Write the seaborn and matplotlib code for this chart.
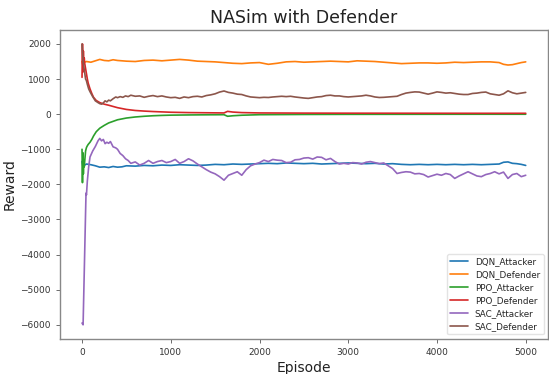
import numpy as np
import pandas as pd
import matplotlib
matplotlib.use("Agg")
import matplotlib.pyplot as plt
import seaborn as sns

# ---------------- data ----------------
dqn_ep = [0, 10, 20, 30, 50, 100, 150, 200, 250, 300, 350, 400, 450, 500, 600, 700, 800, 900,
          1000, 1100, 1200, 1300, 1400, 1500, 1600, 1700, 1800, 1900, 2000, 2100, 2200, 2300,
          2400, 2500, 2600, 2700, 2800, 2900, 3000, 3100, 3200, 3300, 3400, 3500, 3600, 3700,
          3800, 3900, 4000, 4100, 4200, 4300, 4400, 4500, 4600, 4700, 4750, 4800, 4850, 4900,
          4950, 5000]
dqn_attacker = [-1350, -1500, -1400, -1450, -1420, -1440, -1470, -1510, -1500, -1520, -1490,
                -1510, -1500, -1470, -1480, -1460, -1470, -1450, -1460, -1440, -1450, -1460,
                -1450, -1430, -1440, -1420, -1430, -1420, -1410, -1400, -1410, -1390, -1400,
                -1410, -1400, -1420, -1410, -1400, -1390, -1400, -1410, -1400, -1420, -1410,
                -1430, -1440, -1430, -1440, -1430, -1440, -1430, -1440, -1430, -1440, -1430,
                -1420, -1370, -1360, -1400, -1410, -1430, -1460]
dqn_defender = [1500, 1400, 1550, 1480, 1500, 1480, 1520, 1560, 1530, 1520, 1550, 1530, 1520,
                1510, 1500, 1530, 1540, 1520, 1540, 1560, 1540, 1510, 1500, 1490, 1470, 1450,
                1440, 1460, 1470, 1420, 1450, 1490, 1500, 1480, 1490, 1500, 1510, 1500, 1490,
                1520, 1510, 1500, 1480, 1460, 1440, 1450, 1460, 1460, 1450, 1460, 1480, 1470,
                1480, 1490, 1490, 1470, 1420, 1400, 1410, 1440, 1470, 1490]

ppo_ep = [0, 5, 10, 15, 20, 25, 30, 40, 50, 60, 70, 90, 110, 130, 160, 200, 250, 300, 400,
          500, 600, 700, 800, 900, 1000, 1200, 1400, 1600, 1640, 1700, 1800, 2000, 2500, 3000,
          3500, 4000, 4500, 5000]
ppo_attacker = [-1000, -1950, -1100, -1700, -1300, -1500, -1350, -1050, -950, -900, -860, -800,
                -720, -620, -500, -400, -320, -250, -160, -110, -80, -60, -45, -35, -28, -22,
                -18, -15, -60, -45, -30, -15, -8, -5, -4, -3, -2, -2]
ppo_defender = [1050, 2000, 1200, 1800, 1450, 1600, 1450, 1300, 1150, 1000, 880, 720, 590, 480,
                390, 330, 285, 255, 185, 135, 105, 88, 75, 65, 55, 45, 40, 35, 80, 60, 45, 35,
                30, 28, 27, 26, 25, 25]

sac_ep = [0, 12, 40, 45, 50, 60, 75, 90, 120, 150, 180, 200, 220, 240, 260, 280, 300, 320, 350,
          380, 400, 430, 460, 490, 520, 550, 600, 650, 700, 750, 800, 850, 900, 950, 1000, 1050,
          1100, 1150, 1200, 1250, 1300, 1350, 1400, 1450, 1500, 1550, 1600, 1650, 1700, 1750,
          1800, 1850, 1900, 1950, 2000, 2050, 2100, 2150, 2200, 2250, 2300, 2350, 2400, 2450,
          2500, 2550, 2600, 2650, 2700, 2750, 2800, 2850, 2900, 2950, 3000, 3050, 3100, 3150,
          3200, 3250, 3300, 3350, 3400, 3450, 3500, 3550, 3600, 3650, 3700, 3750, 3800, 3850,
          3900, 3950, 4000, 4050, 4100, 4150, 4200, 4250, 4300, 4350, 4400, 4450, 4500, 4550,
          4600, 4650, 4700, 4750, 4800, 4850, 4900, 4950, 5000]
sac_attacker = [-5950, -6000, -2800, -2250, -2300, -1900, -1500, -1220, -1050, -920, -760, -690,
                -760, -720, -840, -800, -830, -780, -930, -960, -1000, -1120, -1180, -1270,
                -1320, -1400, -1360, -1450, -1400, -1320, -1400, -1350, -1320, -1380, -1350,
                -1290, -1400, -1350, -1270, -1330, -1420, -1500, -1580, -1650, -1700, -1780,
                -1880, -1740, -1690, -1640, -1740, -1580, -1470, -1420, -1380, -1310, -1350,
                -1290, -1310, -1320, -1380, -1370, -1300, -1290, -1250, -1240, -1280, -1220,
                -1230, -1300, -1260, -1350, -1420, -1400, -1420, -1380, -1390, -1420, -1370,
                -1350, -1380, -1410, -1390, -1470, -1550, -1690, -1660, -1640, -1650, -1700,
                -1690, -1720, -1790, -1750, -1710, -1740, -1690, -1720, -1830, -1760, -1700,
                -1640, -1700, -1760, -1780, -1720, -1690, -1640, -1700, -1650, -1830, -1720,
                -1690, -1780, -1740]
sac_defender = [2000, 1500, 1000, 980, 950, 850, 720, 640, 500, 380, 330, 300, 285, 320, 380,
                350, 400, 380, 440, 490, 470, 500, 480, 520, 500, 540, 510, 520, 480, 510, 530,
                500, 520, 490, 470, 480, 450, 490, 470, 500, 510, 490, 530, 550, 580, 630, 660,
                620, 600, 570, 560, 520, 490, 480, 470, 480, 475, 490, 500, 510, 500, 510, 490,
                475, 460, 450, 470, 490, 500, 530, 540, 520, 520, 500, 490, 500, 510, 520, 540,
                520, 490, 475, 480, 490, 500, 510, 560, 600, 620, 635, 630, 600, 570, 600, 635,
                620, 600, 610, 590, 570, 560, 560, 590, 600, 620, 630, 580, 560, 540, 580, 665,
                610, 580, 600, 620]

series_names = ["DQN_Attacker", "DQN_Defender", "PPO_Attacker", "PPO_Defender",
                "SAC_Attacker", "SAC_Defender"]
series_x = [dqn_ep, dqn_ep, ppo_ep, ppo_ep, sac_ep, sac_ep]
series_y = [dqn_attacker, dqn_defender, ppo_attacker, ppo_defender, sac_attacker, sac_defender]

frames = [pd.DataFrame({"Episode": x, "Reward": y, "Series": n})
          for n, x, y in zip(series_names, series_x, series_y)]
df = pd.concat(frames, ignore_index=True)

# ---------------- plot ----------------
sns.set_style("ticks")
plt.rcParams["font.family"] = ["DejaVu Sans"]

fig = plt.figure(figsize=(5.49, 3.74), dpi=100)
ax = fig.add_axes([0.109, 0.094, 0.889, 0.826])

sns.lineplot(data=df, x="Episode", y="Reward", hue="Series", hue_order=series_names,
             palette=sns.color_palette("tab10", 6), linewidth=1.2, ax=ax,
             estimator=None, sort=False)

ax.set_xlim(-250, 5250)
ax.set_ylim(-6400, 2400)
ax.set_xticks([0, 1000, 2000, 3000, 4000, 5000])
ax.set_yticks([-6000, -5000, -4000, -3000, -2000, -1000, 0, 1000, 2000])
ax.tick_params(labelsize=6.5, length=3, width=0.6, color="#555555", labelcolor="#333333")
for s in ax.spines.values():
    s.set_color("#888888")
    s.set_linewidth(1.0)

ax.set_title("NASim with Defender", fontsize=12.5, color="#222222", pad=5)
ax.set_xlabel("Episode", fontsize=10, color="#222222", labelpad=3)
ax.set_ylabel("Reward", fontsize=10, color="#222222", labelpad=3)

leg = ax.legend(loc="lower right", fontsize=6.3, frameon=True, borderaxespad=0.5,
                handlelength=2.0, labelspacing=0.45)
leg.get_frame().set_edgecolor("#dddddd")
leg.set_title(None)

fig.savefig("out.png", dpi=100)
